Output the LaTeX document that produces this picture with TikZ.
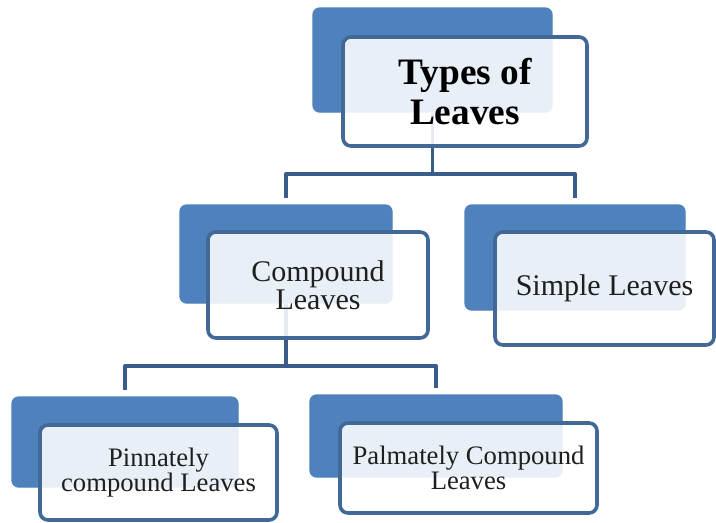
\documentclass[tikz,border=0pt]{standalone}
\usepackage{fontspec}
\setmainfont{Liberation Serif}
\definecolor{backblue}{RGB}{79,129,189}
\definecolor{edgeblue}{RGB}{66,104,152}
\definecolor{linkblue}{RGB}{58,92,140}
\begin{document}
\begin{tikzpicture}[x=0.75pt, y=-0.75pt, line join=round,
    backbox/.style={fill=backblue, draw=backblue, line width=1pt, rounded corners=5pt, inner sep=0pt},
    frontbox/.style={fill=white, fill opacity=0.88, text opacity=1, draw=edgeblue, line width=2.7pt,
        rounded corners=6pt, inner sep=0pt, align=center, text=black!88},
    link/.style={draw=linkblue, line width=2.8pt, shorten >=5pt}]
    \path[fill=white, use as bounding box] (0,0) rectangle (716,522);
    % back boxes
    \node[backbox, minimum width=179.25pt, minimum height=78pt] (typesback) at (432.5,60) {};
    \node[backbox, minimum width=159pt, minimum height=73.5pt] (compoundback) at (286,254) {};
    \node[backbox, minimum width=165pt, minimum height=78.75pt] (simpleback) at (575,257.5) {};
    \node[backbox, minimum width=169.5pt, minimum height=67.5pt] (pinnback) at (125,442) {};
    \node[backbox, minimum width=189pt, minimum height=61.5pt] (palmback) at (436,436) {};
    % connectors
    \draw[link, shorten >=0pt] (typesback.south) -- ++(0,61) coordinate (split1);
    \draw[link] (split1) -| (compoundback.north);
    \draw[link] (split1) -| (simpleback.north);
    \draw[link, shorten >=0pt] (compoundback.south) -- ++(0,62) coordinate (split2);
    \draw[link] (split2) -| (pinnback.north);
    \draw[link] (split2) -| (palmback.north);
    % front boxes
    \node[frontbox, minimum width=183pt, minimum height=81.75pt, font=\fontsize{28}{30}\selectfont\bfseries, text=black]
        (types) at (465,91.5) {Types of\\Leaves};
    \node[frontbox, minimum width=165pt, minimum height=79.5pt, font=\fontsize{22.5}{21}\selectfont]
        (compound) at (318,285) {Compound\\Leaves};
    \node[frontbox, minimum width=164.25pt, minimum height=84.75pt, font=\fontsize{22.5}{21}\selectfont]
        (simple) at (604.5,288.5) {Simple Leaves};
    \node[frontbox, minimum width=177.75pt, minimum height=71.25pt, font=\fontsize{20}{18.5}\selectfont]
        (pinn) at (158.5,472.5) {Pinnately\\compound Leaves};
    \node[frontbox, minimum width=192.75pt, minimum height=67.5pt, font=\fontsize{20}{18.5}\selectfont]
        (palm) at (468.5,468) {Palmately Compound\\Leaves};
\end{tikzpicture}
\end{document}
